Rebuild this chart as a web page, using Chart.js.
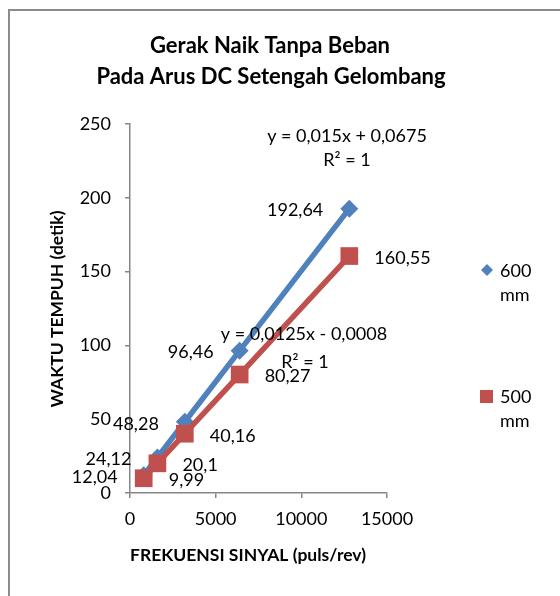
<!DOCTYPE html>
<html>
<head>
<meta charset="utf-8">
<script src="https://cdn.jsdelivr.net/npm/chart.js@4/dist/chart.umd.min.js"></script>
<style>
  html, body { margin: 0; padding: 0; background: #fff; }
  #wrap { width: 560px; height: 596px; position: relative; }
</style>
</head>
<body>
<div id="wrap"><canvas id="chart" width="560" height="596"></canvas></div>
<script>
// data
const freq = [800, 1600, 3200, 6400, 12800];
const time600 = [12.04, 24.12, 48.28, 96.46, 192.64];
const time500 = [9.99, 20.1, 40.16, 80.27, 160.55];
const seriesNames = [['600', 'mm'], ['500', 'mm']];
const xTicks = [0, 5000, 10000, 15000];
const yTicks = [0, 50, 100, 150, 200, 250];
const trend600 = ['y = 0,015x + 0,0675', 'R² = 1'];
const trend500 = ['y = 0,0125x - 0,0008', 'R² = 1'];

const BLUE = '#4F81BD';
const RED = '#C0504D';
const AXIS = '#868686';
const FONT = 'Lato';
const NUM = 18;

function fmt(v) { return String(v).replace('.', ','); }

const overlay = {
  id: 'overlay',
  afterDatasetsDraw(chart) {
    const ctx = chart.ctx;
    const xs = chart.scales.x, ys = chart.scales.y;
    ctx.save();
    ctx.fillStyle = '#000';
    ctx.font = NUM + 'px ' + FONT;
    ctx.textBaseline = 'middle';
    // 600 mm labels on the left of each point
    ctx.textAlign = 'right';
    freq.forEach((f, i) => {
      ctx.fillText(fmt(time600[i]), xs.getPixelForValue(f) - 26, ys.getPixelForValue(time600[i]) + 2);
    });
    // 500 mm labels on the right
    ctx.textAlign = 'left';
    freq.forEach((f, i) => {
      ctx.fillText(fmt(time500[i]), xs.getPixelForValue(f) + 25, ys.getPixelForValue(time500[i]) + 2);
    });
    // trendline equations
    ctx.textAlign = 'center';
    ctx.fillText(trend600[0], 347, 136);
    ctx.fillText(trend600[1], 347, 160);
    ctx.fillText(trend500[0], 304, 334);
    ctx.fillText(trend500[1], 305, 362);
    ctx.restore();
  },
  afterDraw(chart) {
    const ctx = chart.ctx;
    ctx.save();
    // outer chart border (top and left visible)
    ctx.strokeStyle = '#8c8c8c';
    ctx.lineWidth = 2;
    ctx.beginPath();
    ctx.moveTo(9, 596);
    ctx.lineTo(9, 10);
    ctx.lineTo(560, 10);
    ctx.stroke();

    // title
    ctx.fillStyle = '#000';
    ctx.textAlign = 'center';
    ctx.textBaseline = 'middle';
    ctx.font = 'bold 22px ' + FONT;
    ctx.fillText('Gerak Naik Tanpa Beban', 270, 46);
    ctx.fillText('Pada Arus DC Setengah Gelombang', 271, 77);

    // axis titles
    ctx.font = 'bold 17.5px ' + FONT;
    ctx.fillText('FREKUENSI SINYAL (puls/rev)', 248, 555);
    ctx.save();
    ctx.translate(57, 309);
    ctx.rotate(-Math.PI / 2);
    ctx.fillText('WAKTU TEMPUH (detik)', 0, 0);
    ctx.restore();

    // legend
    ctx.font = NUM + 'px ' + FONT;
    ctx.textAlign = 'left';
    ctx.fillStyle = BLUE;
    ctx.beginPath();
    ctx.moveTo(487, 264); ctx.lineTo(493, 270); ctx.lineTo(487, 276); ctx.lineTo(481, 270);
    ctx.closePath();
    ctx.fill();
    ctx.fillStyle = RED;
    ctx.fillRect(480, 390, 13, 13);
    ctx.fillStyle = '#000';
    ctx.fillText(seriesNames[0][0], 500, 271);
    ctx.fillText(seriesNames[0][1], 500, 295);
    ctx.fillText(seriesNames[1][0], 500, 397);
    ctx.fillText(seriesNames[1][1], 500, 421);
    ctx.restore();
  }
};

new Chart(document.getElementById('chart'), {
  type: 'scatter',
  data: {
    datasets: [
      {
        label: '600 mm',
        data: freq.map((f, i) => ({ x: f, y: time600[i] })),
        showLine: true,
        borderColor: BLUE,
        backgroundColor: BLUE,
        borderWidth: 5.5,
        pointStyle: 'rectRot',
        pointRadius: 9,
        pointBorderWidth: 0,
        order: 1
      },
      {
        label: '500 mm',
        data: freq.map((f, i) => ({ x: f, y: time500[i] })),
        showLine: true,
        borderColor: RED,
        backgroundColor: RED,
        borderWidth: 5.5,
        pointStyle: 'rect',
        pointRadius: 12.5,
        pointBorderWidth: 0,
        order: 0
      }
    ]
  },
  options: {
    responsive: false,
    animation: false,
    devicePixelRatio: 1,
    layout: { padding: { left: 0, top: 124, right: 173, bottom: 0 } },
    plugins: { legend: { display: false }, tooltip: { enabled: false } },
    scales: {
      x: {
        type: 'linear',
        min: 0, max: 15000,
        afterFit(s) { s.height = 103; },
        afterBuildTicks(s) { s.ticks = xTicks.map(v => ({ value: v })); },
        border: { color: AXIS, width: 1.5 },
        grid: { drawOnChartArea: false, drawTicks: true, tickLength: 5, color: AXIS, lineWidth: 1.5 },
        ticks: { color: '#000', font: { family: FONT, size: NUM }, padding: 10, maxRotation: 0,
                 callback: v => String(v) }
      },
      y: {
        type: 'linear',
        min: 0, max: 250,
        afterFit(s) { s.width = 130; },
        afterBuildTicks(s) { s.ticks = yTicks.map(v => ({ value: v })); },
        border: { color: AXIS, width: 1.5 },
        grid: { drawOnChartArea: false, drawTicks: true, tickLength: 5, color: AXIS, lineWidth: 1.5 },
        ticks: { color: '#000', font: { family: FONT, size: NUM }, padding: 14,
                 callback: v => String(v) }
      }
    }
  },
  plugins: [overlay]
});
</script>
</body>
</html>
